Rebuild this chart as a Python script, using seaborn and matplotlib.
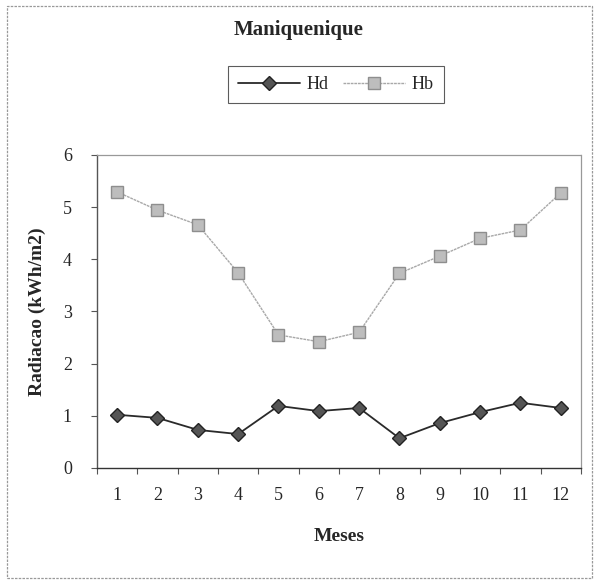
import matplotlib
matplotlib.use("Agg")
import matplotlib.pyplot as plt
from matplotlib.patches import Rectangle
from matplotlib.ticker import FixedLocator, NullFormatter
import seaborn as sns
import pandas as pd

meses = [1, 2, 3, 4, 5, 6, 7, 8, 9, 10, 11, 12]
hd = [1.02, 0.96, 0.73, 0.65, 1.19, 1.09, 1.15, 0.57, 0.86, 1.07, 1.25, 1.15]
hb = [5.29, 4.94, 4.66, 3.74, 2.55, 2.42, 2.60, 3.73, 4.06, 4.40, 4.56, 5.27]

df = pd.DataFrame({"Meses": meses + meses,
                   "Radiacao": hd + hb,
                   "Serie": ["Hd"] * 12 + ["Hb"] * 12})

sns.set_style("white")
plt.rcParams["font.family"] = ["Liberation Serif", "DejaVu Serif"]

fig = plt.figure(figsize=(5.97, 5.81), dpi=100)
ax = fig.add_axes([0.1625, 0.1945, 0.8105, 0.539])

sns.lineplot(data=df[df.Serie == "Hd"], x="Meses", y="Radiacao", ax=ax,
             color="#2a2a2a", lw=1.3, marker="D", markersize=7,
             markerfacecolor="#555555", markeredgecolor="#222222",
             markeredgewidth=1.0, label="Hd")
sns.lineplot(data=df[df.Serie == "Hb"], x="Meses", y="Radiacao", ax=ax,
             color="#a8a8a8", lw=1.0, ls=(0, (2, 0.6)), marker="s", markersize=9,
             markerfacecolor="#bdbdbd", markeredgecolor="#8e8e8e",
             markeredgewidth=1.0, label="Hb")

ax.set_xlim(0.5, 12.5)
ax.set_ylim(0, 6)
ax.set_xticks(meses)
ax.set_xticklabels([str(m) for m in meses])
ax.xaxis.set_minor_locator(FixedLocator([m + 0.5 for m in range(0, 13)]))
ax.xaxis.set_minor_formatter(NullFormatter())
ax.tick_params(axis="x", which="major", length=0, pad=14, labelsize=13)
ax.tick_params(axis="x", which="minor", length=4, width=0.8, color="#555555", direction="out", bottom=True)
ax.set_yticks([0, 1, 2, 3, 4, 5, 6])
ax.tick_params(axis="y", length=4, width=0.8, color="#555555", direction="out", left=True, pad=14, labelsize=13)

for side in ["top", "right"]:
    ax.spines[side].set_visible(True)
    ax.spines[side].set_color("#999999")
    ax.spines[side].set_linestyle((0, (1, 1)))
    ax.spines[side].set_linewidth(0.9)
ax.spines["left"].set_color("#555555")
ax.spines["left"].set_linewidth(1.0)
ax.spines["bottom"].set_color("#333333")
ax.spines["bottom"].set_linestyle((0, (2, 1)))
ax.spines["bottom"].set_linewidth(1.0)

ax.set_xlabel("Meses", fontsize=14, fontweight="bold", labelpad=17)
ax.set_ylabel("Radiacao (kWh/m2)", fontsize=14, fontweight="bold", labelpad=12)

fig.text(0.50, 0.948, "Maniquenique", ha="center", va="center",
         fontsize=15, fontweight="bold")

ax.get_legend().remove()
handles, labels = ax.get_legend_handles_labels()
leg = fig.legend(handles, labels, loc="center", bbox_to_anchor=(0.563, 0.854),
                 ncol=2, frameon=True, fancybox=False, fontsize=13,
                 handlelength=3.4, columnspacing=0.8, handletextpad=0.4,
                 borderpad=0.55)
leg.get_frame().set_edgecolor("#333333")
leg.get_frame().set_linewidth(0.8)

fig.patches.append(Rectangle((0.012, 0.006), 0.98, 0.984, transform=fig.transFigure,
                             fill=False, edgecolor="#999999", lw=0.9,
                             ls=(0, (2, 1))))

fig.savefig("out.png", dpi=100)
